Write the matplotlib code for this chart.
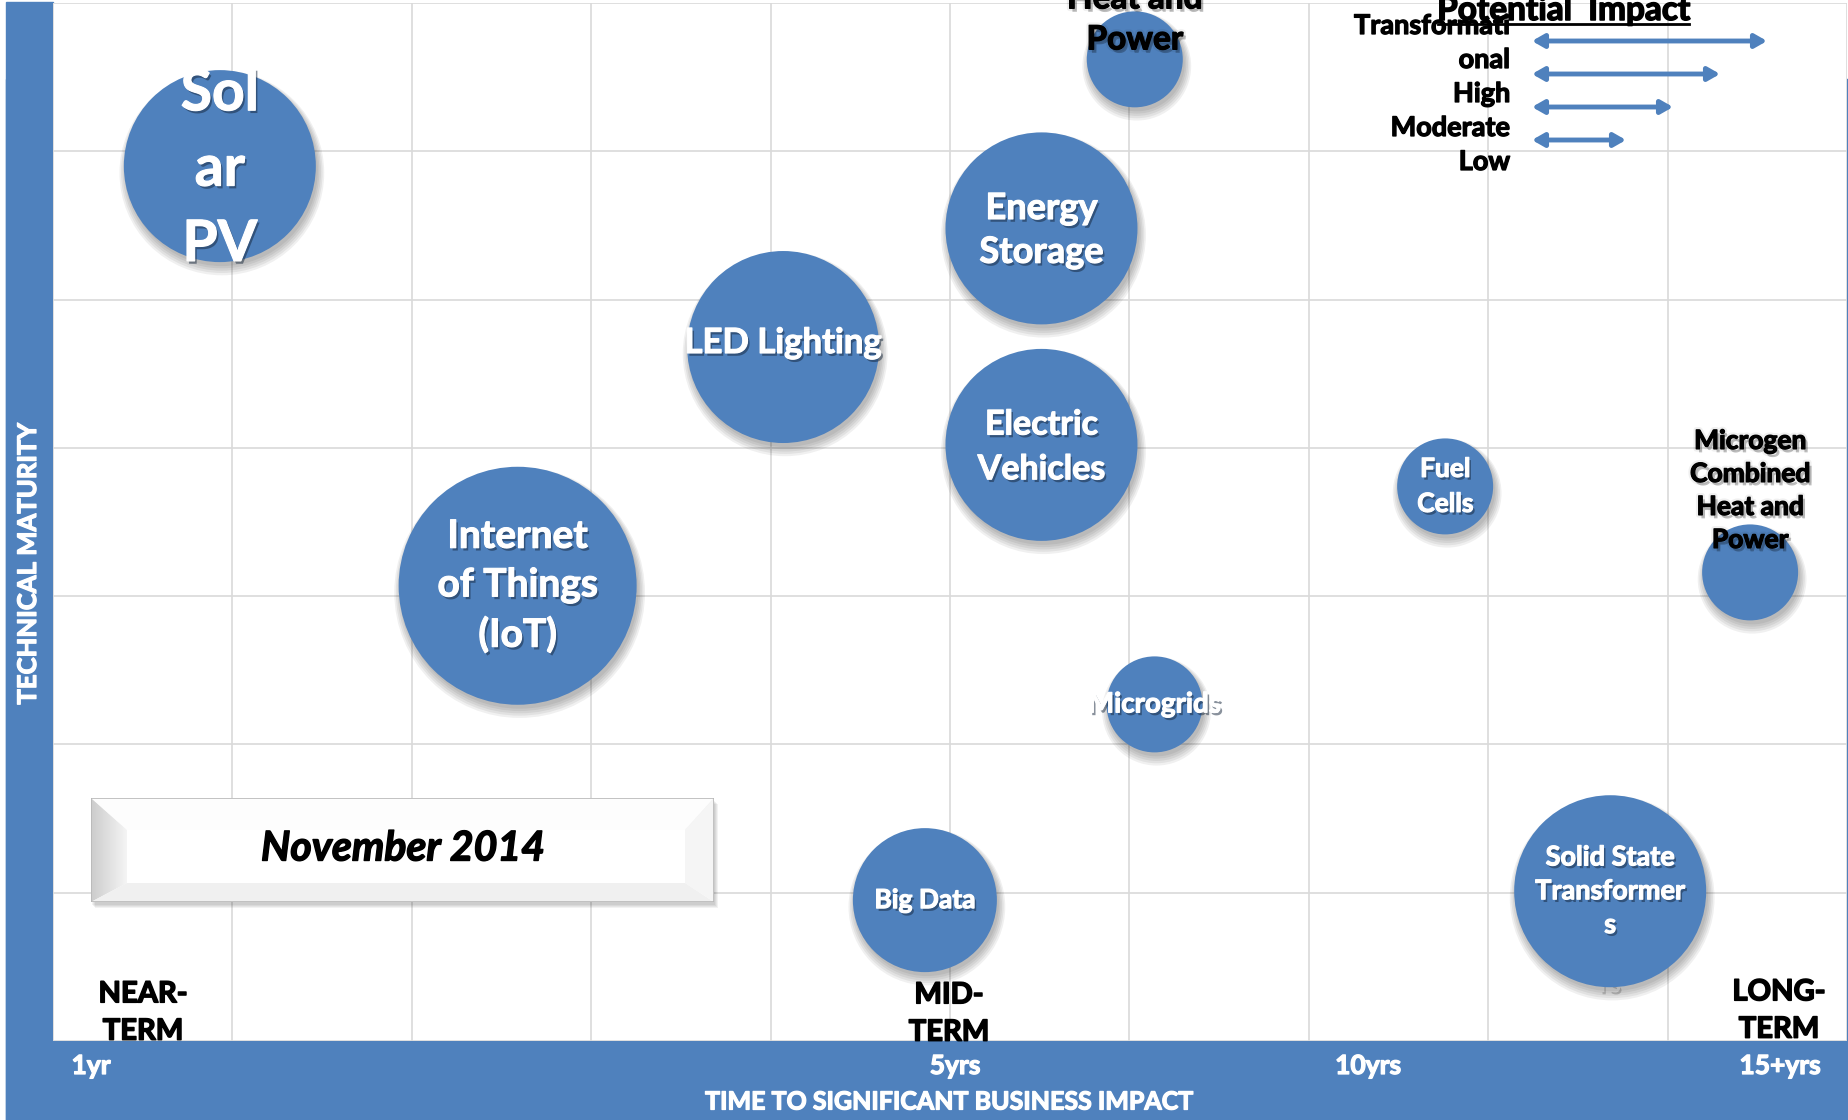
import numpy as np
import matplotlib
matplotlib.use("Agg")
import matplotlib.pyplot as plt
import matplotlib.patheffects as pe
from matplotlib.patches import Rectangle, Polygon
from matplotlib.lines import Line2D
from matplotlib.transforms import offset_copy

# taille de la figure (pixels)
W, H, DPI = 1849, 1120, 100
BLUE = '#4F81BD'
plt.rcParams['font.family'] = ['Lato', 'DejaVu Sans']

# données (unités de grille : x 0-10, y 0-7)
technologies = ["Solar PV", "LED Lighting", "Energy Storage", "Electric Vehicles",
                "Internet of Things (IoT)", "Combined Heat and Power", "Fuel Cells",
                "Microgen Combined Heat and Power", "Microgrids", "Big Data",
                "Solid State Transformers"]
labels = ["Sol\nar\nPV", "LED Lighting", "Energy\nStorage", "Electric\nVehicles",
          "Internet\nof Things\n(IoT)", "Heat and\nPower", "Fuel\nCells",
          "Microgen\nCombined\nHeat and\nPower", "Microgrids", "Big Data",
          "Solid State\nTransformer\ns"]
time_to_impact = [0.93, 4.07, 5.51, 5.51, 2.59, 6.03, 7.76, 9.46, 6.14, 4.86, 8.68]
maturity = [5.90, 4.68, 5.48, 4.02, 3.07, 6.62, 3.74, 3.16, 2.27, 0.95, 1.01]
impact = [3, 3, 3, 3, 4, 1, 1, 1, 1, 2, 3]  # 1 = Low ... 4 = Transformational

impact_levels = [4, 3, 2, 1]
legend_text = "Transformati\nonal\nHigh\nModerate\nLow"
time_labels = ["1yr", "5yrs", "10yrs", "15+yrs"]
term_labels = ["NEAR-\nTERM", "MID-\nTERM", "LONG-\nTERM"]

# style des étiquettes (taille, couleur, décalage vertical en px, interligne)
lab_size = [41, 25, 26, 24.5, 28, 24, 19, 19, 20, 19, 19.5]
lab_color = ['white', 'white', 'white', 'white', 'white', 'black', 'white',
             'black', 'white', 'white', 'white']
lab_dy = [-3, 4, -2, -2, 0, 40, 0, 82, 0, 0, 0]
lab_ls = [1.52, 1.0, 1.4, 1.49, 1.47, 1.5, 1.55, 1.45, 1.0, 1.0, 1.49]
radius_px = {1: 48, 2: 72, 3: 96, 4: 119}


def fx(x):
    return x / W


def fy(y):
    return 1 - y / H


def thick(color, lw=0.9):
    # épaissit le Lato Bold pour ressembler au Calibri gras
    return [pe.Stroke(linewidth=lw, foreground=color), pe.Normal()]


fig = plt.figure(figsize=(W / DPI, H / DPI), dpi=DPI)

# bandes bleues (axes)
fig.add_artist(Rectangle((fx(6), 0), fx(W - 6), 1 - fy(1041), transform=fig.transFigure,
                         color=BLUE, zorder=-1))
fig.add_artist(Rectangle((fx(6), 0), fx(53 - 6), fy(2), transform=fig.transFigure,
                         color=BLUE, zorder=-1))

ax = fig.add_axes([fx(53), fy(1041), fx(1794), 1038 / H])
ax.set_xlim(0, 10)
ax.set_ylim(0, 7)
ax.set_xticks(range(11))
ax.set_yticks(range(8))
ax.grid(color='#d9d9d9', lw=1.2)
ax.set_axisbelow(True)
ax.tick_params(length=0, labelbottom=False, labelleft=False)
for s in ax.spines.values():
    s.set_visible(False)

# bulles avec ombre
sizes = np.array([(2 * radius_px[i] * 72 / DPI) ** 2 for i in impact])
for k in range(5):
    tr = offset_copy(ax.transData, fig=fig, x=2, y=-4 - k * 0.7, units='dots')
    grow = np.array([(2 * (radius_px[i] + k * 1.6) * 72 / DPI) ** 2 for i in impact])
    ax.scatter(time_to_impact, maturity, s=grow, color='black', alpha=0.06,
               linewidths=0, transform=tr, zorder=2)
ax.scatter(time_to_impact, maturity, s=sizes, color=BLUE, linewidths=0, zorder=3)

white_fx = [pe.SimplePatchShadow(offset=(1.5, -2), shadow_rgbFace='#14253a', alpha=0.5),
            pe.Stroke(linewidth=0.8, foreground='white'), pe.Normal()]
black_fx = [pe.Stroke(linewidth=4, foreground='black', alpha=0.06),
            pe.SimplePatchShadow(offset=(2, -2.5), shadow_rgbFace='black', alpha=0.25),
            pe.Stroke(linewidth=0.9, foreground='black'), pe.Normal()]

for i in range(len(labels)):
    ax.annotate(labels[i], (time_to_impact[i], maturity[i]), xytext=(0, lab_dy[i]),
                textcoords='offset pixels', ha='center', va='center',
                fontsize=lab_size[i], color=lab_color[i], fontweight='bold',
                linespacing=lab_ls[i], annotation_clip=False, zorder=5,
                path_effects=white_fx if lab_color[i] == 'white' else black_fx)

# texte fantôme sous la bulle SST
ax.annotate("rs", (time_to_impact[10], maturity[10]), xytext=(0, -93),
            textcoords='offset pixels', ha='center', va='center', fontsize=19,
            color='white', fontweight='bold', annotation_clip=False, zorder=1,
            path_effects=[pe.SimplePatchShadow(offset=(1, -1.5), shadow_rgbFace='#888888',
                                               alpha=0.4), pe.Normal()])

# termes (court / moyen / long)
for lab, (x, y) in zip(term_labels, [(143, 1013), (949, 1014), (1779, 1011)]):
    fig.text(fx(x), fy(y), lab, ha='center', va='center', fontsize=21, fontweight='bold',
             linespacing=1.54, zorder=3, path_effects=thick('black', 1.1))

# étiquettes de l'axe du temps
for lab, x in zip(time_labels, [91, 955, 1368, 1780]):
    fig.text(fx(x), fy(1066), lab, ha='center', va='center', fontsize=19, fontweight='bold',
             color='white', path_effects=thick('white'))
fig.text(fx(949), fy(1102), "TIME TO SIGNIFICANT BUSINESS IMPACT", ha='center', va='center',
         fontsize=18, fontweight='bold', color='white', path_effects=thick('white'))
fig.text(fx(28), fy(563), "TECHNICAL MATURITY", ha='center', va='center', rotation=90,
         fontsize=18.5, fontweight='bold', color='white', path_effects=thick('white'))

# légende "Potential Impact"
fig.text(fx(1564), fy(20), "Potential  Impact", ha='center', va='baseline', fontsize=24,
         fontweight='bold', path_effects=thick('black', 1.1))
fig.add_artist(Line2D([fx(1438), fx(1689)], [fy(24), fy(24)], transform=fig.transFigure,
                      color='black', lw=2))
fig.text(fx(1510), fy(94), legend_text, ha='right', va='center', fontsize=19.5,
         fontweight='bold', linespacing=1.5, path_effects=thick('black'))
for n, lev in enumerate(impact_levels):
    y = H - (41 + 33 * n)
    x1 = 1532 + 47 * (lev + 1)
    ax.annotate('', xy=(x1, y), xytext=(1532, y), xycoords='figure pixels',
                textcoords='figure pixels', annotation_clip=False,
                arrowprops=dict(arrowstyle='<|-|>,head_length=0.7,head_width=0.4',
                                color=BLUE, lw=3.5, shrinkA=0, shrinkB=0))

# cadre "November 2014"
bw, bh = 623, 104
for k in range(4):
    fig.add_artist(Rectangle((fx(92 + k), fy(905 + k)), fx(bw), bh / H,
                             transform=fig.transFigure, color='black', alpha=0.05,
                             lw=0, zorder=1))
bx = fig.add_axes([fx(91), fy(902), fx(bw), bh / H], zorder=2)
bx.axis('off')
L, R, B, T = 36, bw - 29, 19, bh - 32
grad = np.linspace(0.94, 1.0, 64)[:, None] * np.ones((64, 2))
bx.imshow(np.dstack([grad] * 3), extent=[0, bw, 0, bh], aspect='auto', zorder=0)
left = Polygon([(0, 0), (L, B), (L, T), (0, bh)], closed=True, fc='none', lw=0)
bx.add_patch(left)
lg = np.linspace(0.80, 0.96, 64)[None, :] * np.ones((2, 64))
im = bx.imshow(np.dstack([lg] * 3), extent=[0, L, 0, bh], aspect='auto', zorder=1)
im.set_clip_path(left)
bx.add_patch(Polygon([(0, bh), (L, T), (R, T), (bw, bh)], fc='#fdfdfd', lw=0, zorder=1))
bx.add_patch(Polygon([(0, 0), (bw, 0), (R, B), (L, B)], fc='#f0f0f0', lw=0, zorder=1))
bx.add_patch(Polygon([(bw, 0), (bw, bh), (R, T), (R, B)], fc='#f5f5f5', lw=0, zorder=1))
bx.add_patch(Rectangle((L, B), R - L, T - B, fc='white', lw=0, zorder=1))
bx.add_patch(Rectangle((0, 0), bw, bh, fc='none', ec='#b8b8b8', lw=1.2, zorder=2))
bx.set_xlim(0, bw)
bx.set_ylim(0, bh)
bx.text(312, bh / 2 + 1, "November 2014", ha='center', va='center', fontsize=29.5,
        fontweight='bold', style='italic', zorder=3, path_effects=thick('black', 1.0))

fig.savefig("out.png", dpi=DPI)
